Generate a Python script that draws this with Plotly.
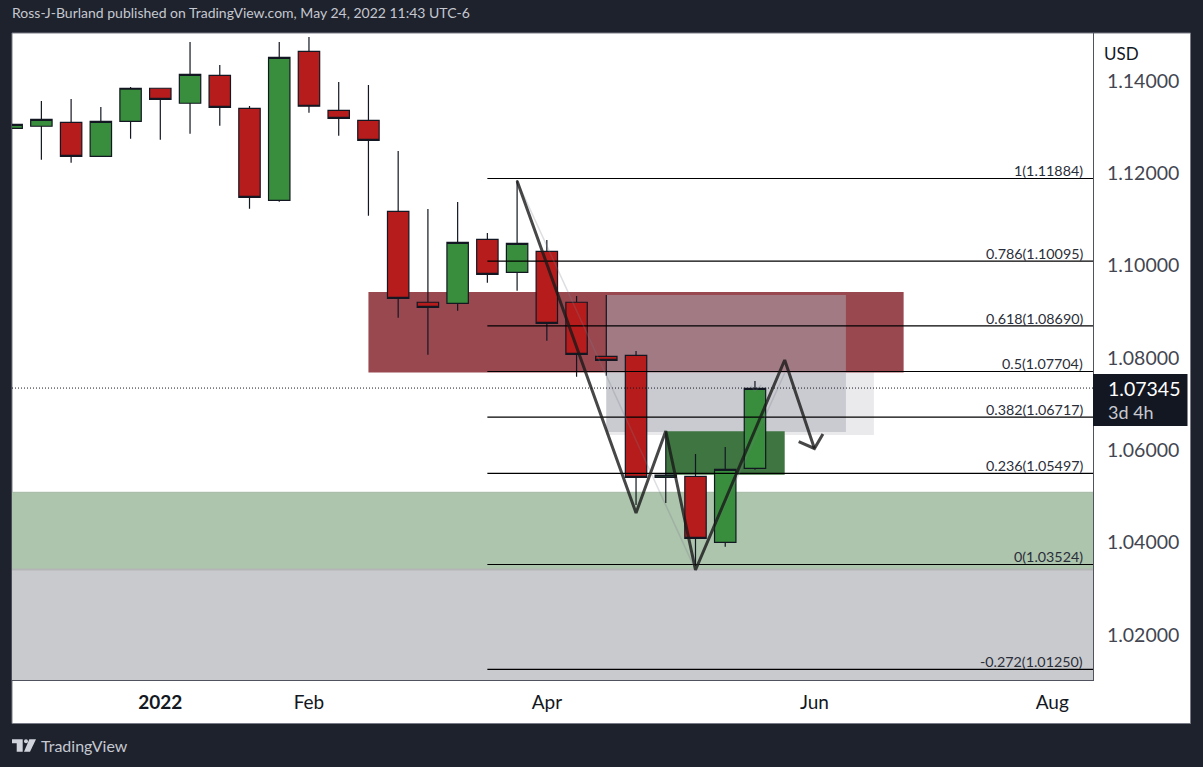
import plotly.graph_objects as go

# ---------- data ----------
dates = ["2021-11-29","2021-12-06","2021-12-13","2021-12-20","2021-12-27","2022-01-03","2022-01-10","2022-01-17",
         "2022-01-24","2022-01-31","2022-02-07","2022-02-14","2022-02-21","2022-02-28","2022-03-07","2022-03-14",
         "2022-03-21","2022-03-28","2022-04-04","2022-04-11","2022-04-18","2022-04-25","2022-05-02","2022-05-09",
         "2022-05-16","2022-05-23"]
opens  = [1.12971,1.13015,1.13101,1.12365,1.13123,1.13838,1.13513,1.14119,1.13404,1.11412,1.14639,1.13361,1.13144,
          1.11173,1.09203,1.09181,1.10567,1.09852,1.10307,1.09203,1.08033,1.08055,1.05412,1.05434,1.04004,1.05607]
highs  = [1.13070,1.13562,1.13606,1.13433,1.13866,1.13838,1.14840,1.14342,1.13454,1.14840,1.14949,1.13974,1.13909,
          1.12480,1.11223,1.11375,1.10703,1.11851,1.10552,1.09339,1.09361,1.08148,1.06400,1.05917,1.06068,1.07498]
lows   = [1.12960,1.12291,1.12226,1.12365,1.12746,1.12724,1.12854,1.13027,1.11230,1.11381,1.13309,1.12811,1.11078,
          1.08869,1.08068,1.09021,1.09627,1.09454,1.08371,1.07591,1.07613,1.04812,1.04856,1.03491,1.03909,1.05577]
closes = [1.13058,1.13166,1.12365,1.13123,1.13838,1.13599,1.14141,1.13426,1.11477,1.14509,1.13448,1.13188,1.12711,
          1.09289,1.09094,1.10502,1.09809,1.10480,1.08748,1.08076,1.07946,1.05412,1.05462,1.04091,1.05585,1.07340]

last_price = 1.07345
fib_levels = ["1","0.786","0.618","0.5","0.382","0.236","0","-0.272"]
fib_prices = [1.11884,1.10095,1.08690,1.07704,1.06717,1.05497,1.03524,1.01250]
fib_start = "2022-03-21"

zig_x = ["2022-03-28","2022-04-25","2022-05-02","2022-05-09","2022-05-30","2022-06-06"]
zig_y = [1.11830,1.04639,1.06415,1.03404,1.07953,1.06036]
arrow_x = ["2022-06-02 07:00","2022-06-06","2022-06-08 00:00"]
arrow_y = [1.06183,1.06036,1.06350]
ghost_x = ["2022-03-28","2022-05-09","2022-05-30"]
ghost_y = [1.11830,1.03404,1.07671]
ghost2_x = ["2022-05-22","2022-05-23","2022-05-24 12:00"]
ghost2_y = [1.07390,1.07280,1.07410]

xrange_ = ["2021-11-29 02:00","2022-08-10 14:00"]
yrange_ = [1.01022,1.15035]
y_ticks = [1.02,1.04,1.06,1.08,1.10,1.12,1.14]
x_ticks = ["2022-01-03","2022-02-07","2022-04-04","2022-06-06","2022-08-01"]
x_labels = ["<b>2022</b>","Feb","Apr","Jun","Aug"]

# ---------- layout helpers ----------
W, H = 1203, 767
L, R, T, B = 12, 1093, 33, 680
def xp(px): return (px - L) / (R - L)
def yp(py): return (B - py) / (B - T)

FONT = "Lato, 'Noto Sans', sans-serif"
DARK = "#1e222d"
INK = "#131722"

fig = go.Figure()
fig.add_trace(go.Candlestick(
    x=dates, open=opens, high=highs, low=lows, close=closes, whiskerwidth=0,
    increasing=dict(line=dict(color=INK, width=1.2), fillcolor="#388e3c"),
    decreasing=dict(line=dict(color=INK, width=1.2), fillcolor="#b71c1c"),
    showlegend=False, hoverinfo="skip"))

for p in fib_prices:
    fig.add_trace(go.Scatter(x=[fib_start, xrange_[1]], y=[p, p], mode="lines",
                             line=dict(color="#000000", width=1.2), showlegend=False, hoverinfo="skip"))
fig.add_trace(go.Scatter(x=xrange_, y=[last_price, last_price], mode="lines",
                         line=dict(color="#131722", width=1, dash="1px 2px"), showlegend=False, hoverinfo="skip"))
for gx, gy in ((ghost_x, ghost_y), (ghost2_x, ghost2_y)):
    fig.add_trace(go.Scatter(x=gx, y=gy, mode="lines", line=dict(color="rgba(120,123,134,0.25)", width=1.5),
                             showlegend=False, hoverinfo="skip"))
for zx, zy in ((zig_x, zig_y), (arrow_x, arrow_y)):
    fig.add_trace(go.Scatter(x=zx, y=zy, mode="lines", line=dict(color="rgba(25,25,25,0.8)", width=3),
                             showlegend=False, hoverinfo="skip"))

shapes = [
    # white chart canvas including both axes
    dict(type="rect", xref="paper", yref="paper", x0=xp(12), x1=xp(1190.5), y0=yp(723.5), y1=yp(33),
         fillcolor="#ffffff", line=dict(color="#787b86", width=1), layer="below"),
    # bands and boxes
    dict(type="rect", xref="paper", yref="y", x0=0, x1=1, y0=1.05087, y1=1.03415,
         fillcolor="#adc4ad", line=dict(width=0), layer="below"),
    dict(type="line", xref="paper", yref="y", x0=0, x1=1, y0=1.05087, y1=1.05087,
         line=dict(color="#a5b8a5", width=1), layer="below"),
    dict(type="rect", xref="paper", yref="y", x0=0, x1=1, y0=1.03415, y1=yrange_[0],
         fillcolor="#c9cace", line=dict(width=0), layer="below"),
    dict(type="line", xref="paper", yref="y", x0=0, x1=1, y0=1.03415, y1=1.03415,
         line=dict(color="#b4b5b5", width=2), layer="below"),
    dict(type="rect", xref="x", yref="y", x0="2022-04-18", x1="2022-06-20", y0=1.09360, y1=1.06328,
         fillcolor="#eaeaed", line=dict(width=0), layer="below"),
    dict(type="rect", xref="x", yref="y", x0="2022-02-21", x1="2022-06-27", y0=1.09426, y1=1.07682,
         fillcolor="#994850", line=dict(width=0), layer="below"),
    dict(type="rect", xref="x", yref="y", x0="2022-04-18", x1="2022-06-13 10:00", y0=1.09360, y1=1.06393,
         fillcolor="rgba(169,171,181,0.5)", line=dict(width=0), layer="below"),
    dict(type="rect", xref="x", yref="y", x0="2022-05-02", x1="2022-05-30", y0=1.06409, y1=1.05468,
         fillcolor="#3e7540", line=dict(width=0), layer="below"),
    # last-price tag
    dict(type="rect", xref="paper", yref="paper", x0=xp(1093), x1=xp(1187.5), y0=yp(426), y1=yp(374),
         fillcolor=INK, line=dict(width=0), layer="above"),
    # TradingView logo
    dict(type="path", xref="paper", yref="paper", layer="above", fillcolor="#d1d4dc", line=dict(width=0),
         path="M {a} {t} L {b} {t} L {b} {u} L {d} {u} L {d} {m} L {a} {m} Z".format(
             a=xp(12), b=xp(22.7), d=xp(16.7), t=yp(739.3), m=yp(743.3), u=yp(751.7))),
    dict(type="circle", xref="paper", yref="paper", layer="above", fillcolor="#d1d4dc", line=dict(width=0),
         x0=xp(24), x1=xp(28), y0=yp(743.3), y1=yp(739.3)),
    dict(type="path", xref="paper", yref="paper", layer="above", fillcolor="#d1d4dc", line=dict(width=0),
         path="M {} {} L {} {} L {} {} L {} {} Z".format(
             xp(29.3), yp(739.3), xp(36), yp(739.3), xp(30), yp(751.7), xp(24), yp(751.7))),
]

annotations = [
    dict(xref="paper", yref="y", x=xp(1084), y=p, text=f"{lvl}({p:.5f})", showarrow=False,
         xanchor="right", yanchor="bottom", font=dict(family=FONT, size=14.3, color="#2a2e39"), borderpad=0, yshift=-2)
    for lvl, p in zip(fib_levels, fib_prices)
]
annotations += [
    dict(xref="paper", yref="paper", x=xp(10), y=yp(13), text="Ross-J-Burland published on TradingView.com, May 24, 2022 11:43 UTC-6",
         showarrow=False, xanchor="left", yanchor="middle", font=dict(family=FONT, size=14, color="#c5c8d0")),
    dict(xref="paper", yref="paper", x=xp(39), y=yp(745.5), text="TradingView",
         showarrow=False, xanchor="left", yanchor="middle", font=dict(family=FONT, size=16, color="#c5c8d0")),
    dict(xref="paper", yref="paper", x=xp(1102), y=yp(53), text="USD",
         showarrow=False, xanchor="left", yanchor="middle", font=dict(family=FONT, size=17, color=INK)),
    dict(xref="paper", yref="paper", x=xp(1106), y=yp(388), text=f"{last_price:.5f}",
         showarrow=False, xanchor="left", yanchor="middle", font=dict(family=FONT, size=19.5, color="#ffffff")),
    dict(xref="paper", yref="paper", x=xp(1106), y=yp(412), text="3d 4h",
         showarrow=False, xanchor="left", yanchor="middle", font=dict(family=FONT, size=18, color="#c8cad0")),
]

fig.update_layout(
    width=W, height=H, margin=dict(l=L, r=W - R, t=T, b=H - B, pad=0),
    paper_bgcolor=DARK, plot_bgcolor="#ffffff", showlegend=False, boxgap=0.28, boxgroupgap=0,
    shapes=shapes, annotations=annotations, hovermode=False,
    xaxis=dict(type="date", range=xrange_, rangeslider=dict(visible=False), showgrid=False, zeroline=False,
               tickmode="array", tickvals=x_ticks, ticktext=x_labels, ticks="", ticklabelstandoff=5,
               tickfont=dict(family=FONT, size=19, color=INK), showline=True, linecolor="#50535e", linewidth=1),
    yaxis=dict(side="right", range=yrange_, showgrid=False, zeroline=False, tickmode="array", tickvals=y_ticks,
               tickformat=".5f", ticks="", ticklabelstandoff=9,
               tickfont=dict(family=FONT, size=19.5, color="#434651"), showline=True, linecolor="#50535e", linewidth=1),
)
fig.write_html("out.html", config=dict(displayModeBar=False),
               post_script="document.body.style.margin='0';document.body.style.overflow='hidden';")
